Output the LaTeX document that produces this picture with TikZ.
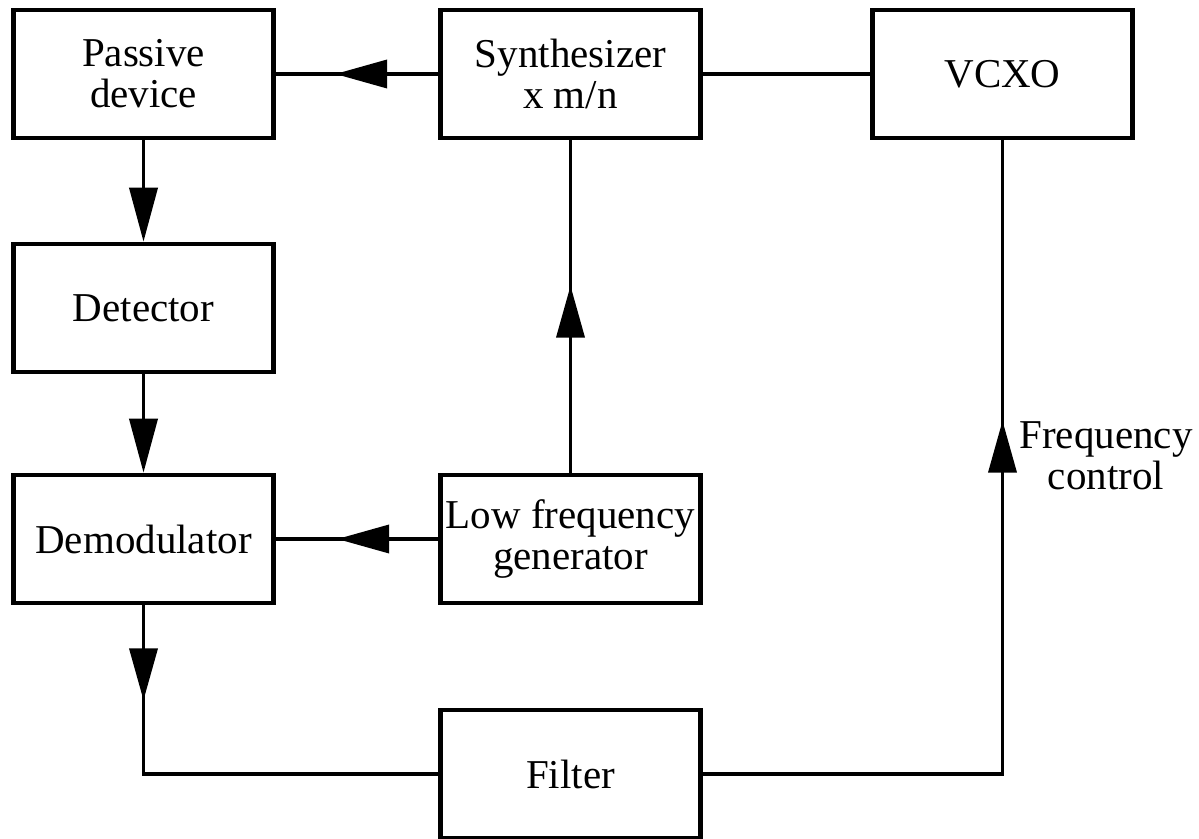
\documentclass[tikz,border=0pt]{standalone}
\usepackage{fontspec}
\setmainfont{Liberation Serif}
\usetikzlibrary{arrows.meta,decorations.markings}
\begin{document}
\begin{tikzpicture}[x=0.5pt,y=-0.5pt,
  blk/.style={draw, line width=2.3pt, minimum width=130pt, minimum height=64pt,
    inner sep=0pt, align=center, font=\fontsize{20.5}{20.5}\selectfont},
  lbl/.style={align=center, inner sep=0pt, font=\fontsize{20.5}{20.5}\selectfont},
  conn/.style={line width=1.9pt},
  tipend/.style={-{Triangle[length=27pt,width=14pt]}},
  midtip/.style={postaction={decorate}, decoration={markings,
    mark=at position #1 with {\arrow{Triangle[length=26pt,width=14pt]}}}}
]
\useasboundingbox (0,0) rectangle (1199,839);
\node[blk] (pas) at (143.5,74) {Passive\\device};
\node[blk] (syn) at (570.5,74) {Synthesizer\\x m/n};
\node[blk] (vco) at (1002.5,74) {VCXO};
\node[blk] (det) at (143.5,308) {Detector};
\node[blk] (dem) at (143.5,539) {Demodulator};
\node[blk] (lfg) at (570.5,539) {Low frequency\\generator};
\node[blk] (fil) at (570.5,774) {Filter};
\node[lbl] (fc) at (1106,456) {Frequency\\control};

\draw[conn, midtip=51.5pt] (syn.west) -- (pas.east);
\draw[conn] (syn.east) -- (vco.west);
\draw[conn, tipend] (pas.south) -- (det.north);
\draw[conn, tipend] (det.south) -- (dem.north);
\draw[conn, midtip=50.5pt] (lfg.west) -- (dem.east);
\draw[conn, midtip=93.5pt] (lfg.north) -- (syn.south);
\draw[conn, midtip=47.5pt] (dem.south) |- (fil.west);
\draw[conn, midtip=326.5pt] (fil.east) -| (vco.south);
\end{tikzpicture}
\end{document}
